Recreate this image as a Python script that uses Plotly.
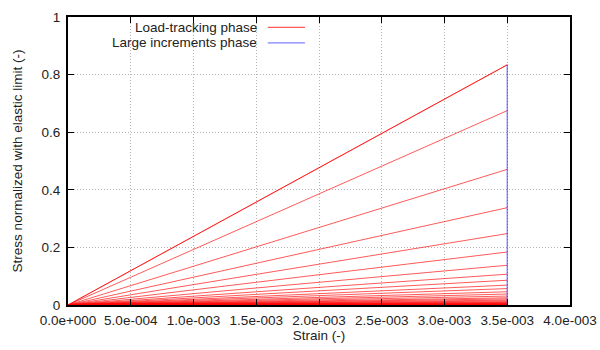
import plotly.graph_objects as go

# Final strain reached by every loading path
strain_end = 3.5e-3

# Normalized stress at the end of each load-tracking path
stress_end = [
    0.834, 0.834, 0.675, 0.471, 0.338, 0.248, 0.184, 0.138, 0.107, 0.086,
    0.069, 0.057, 0.046, 0.038, 0.031, 0.025, 0.021, 0.017, 0.014, 0.011,
    0.009, 0.007, 0.0055, 0.0043, 0.0033, 0.0025, 0.0018, 0.0012, 0.0007, 0.0003,
]

# Large-increment phase: vertical jump at the final strain
large_x = [strain_end, strain_end]
large_y = [0.0, max(stress_end)]

x_ticks = [0.0, 5e-4, 1e-3, 1.5e-3, 2e-3, 2.5e-3, 3e-3, 3.5e-3, 4e-3]
x_tick_text = ["0.0e+000", "5.0e-004", "1.0e-003", "1.5e-003", "2.0e-003",
               "2.5e-003", "3.0e-003", "3.5e-003", "4.0e-003"]
y_ticks = [0, 0.2, 0.4, 0.6, 0.8, 1]
y_tick_text = ["0", "0.2", "0.4", "0.6", "0.8", "1"]

FONT = "Liberation Sans, Arial, sans-serif"
FS = 13.5
TXT = "#222"
RED = "rgba(255,0,0,0.65)"
BLUE = "rgba(0,0,255,0.5)"

# All load-tracking paths in one trace, separated by gaps
lx, ly = [], []
for s in stress_end:
    lx += [0.0, strain_end, None]
    ly += [0.0, s, None]

fig = go.Figure()
fig.add_trace(go.Scatter(x=lx, y=ly, mode="lines",
                         line=dict(color=RED, width=1),
                         name="Load-tracking phase", showlegend=False))
fig.add_trace(go.Scatter(x=large_x, y=large_y, mode="lines",
                         line=dict(color=BLUE, width=1.3),
                         name="Large increments phase", showlegend=False))

# Key in the upper left: text right-aligned, sample line to the right
key = [("Load-tracking phase", RED, 0.964), ("Large increments phase", BLUE, 0.910)]
for label, col, yy in key:
    fig.add_annotation(x=0.378, y=yy, xref="paper", yref="paper",
                       text=label, showarrow=False, xanchor="right", yanchor="middle",
                       borderpad=0,
                       font=dict(family=FONT, size=FS, color=TXT))
    fig.add_shape(type="line", xref="paper", yref="paper",
                  x0=0.398, x1=0.472, y0=yy, y1=yy,
                  line=dict(color=col, width=1.3))

axis_common = dict(
    automargin=False,
    showline=True, linecolor="black", linewidth=2, mirror="ticks",
    ticks="inside", ticklen=6, tickcolor="black", tickwidth=1,
    showgrid=True, gridcolor="#b4b4b4", gridwidth=1, griddash="1px,2px",
    zeroline=False,
    tickfont=dict(family=FONT, size=FS, color=TXT),
)

fig.update_xaxes(range=[0, 4e-3], tickvals=x_ticks, ticktext=x_tick_text,
                 title=dict(text="Strain (-)", font=dict(family=FONT, size=FS, color=TXT),
                            standoff=0),
                 ticklabelstandoff=2, **axis_common)
fig.update_yaxes(range=[0, 1], tickvals=y_ticks, ticktext=y_tick_text,
                 title=dict(text="Stress normalized with elastic limit (-)",
                            font=dict(family=FONT, size=FS, color=TXT), standoff=16),
                 ticklabelstandoff=3, **axis_common)

fig.update_layout(
    width=600, height=350,
    margin=dict(l=68, r=30, t=17, b=45),
    plot_bgcolor="white", paper_bgcolor="white",
    showlegend=False,
)

fig.write_html("out.html")
